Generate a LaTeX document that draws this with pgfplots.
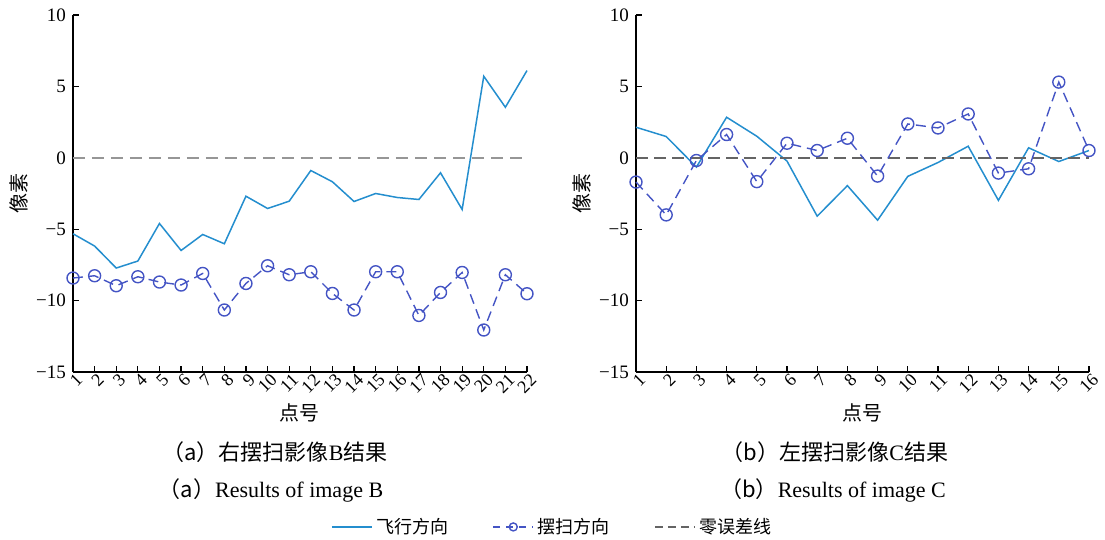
\documentclass[border=0pt]{standalone}
\usepackage{fontspec}
\setmainfont{Liberation Serif}
\newfontfamily\cjk{Noto Sans CJK SC}
\usepackage{pgfplots}
\pgfplotsset{compat=1.18}

\definecolor{flyblue}{RGB}{36,142,206}
\definecolor{swpblue}{RGB}{68,84,196}
\definecolor{zerolight}{RGB}{150,150,150}
\definecolor{zerodark}{RGB}{100,100,100}

\pgfplotsset{
  errplot/.style={
    scale only axis, height=178.5pt,
    ymin=-15, ymax=10,
    axis x line*=bottom, axis y line*=left,
    axis line style={line width=0.7pt, -},
    major tick style={line width=0.6pt, black},
    major tick length=3pt,
    ytick={-15,-10,-5,0,5,10},
    yticklabels={−15,−10,−5,0,5,10},
    yticklabel style={font=\fontsize{9.5}{10}\selectfont},
    xticklabel style={font=\fontsize{9}{10}\selectfont, rotate=45, anchor=east,
      inner sep=0.4pt, yshift=-4pt, xshift=1pt},
    /pgf/number format/assume math mode=true,
    xlabel={\cjk 点号}, ylabel={\cjk 像素},
    label style={font=\fontsize{10}{11}\selectfont},
    xlabel style={at={(axis description cs:0.5,-0.115)}, anchor=center},
    ylabel style={at={(axis description cs:-0.12,0.5)}, anchor=center},
    clip=false,
  },
  fly/.style={flyblue, line width=0.75pt, mark=none},
  swp/.style={swpblue, line width=0.7pt, dash pattern=on 5pt off 3pt,
    mark=o, mark size=3pt, mark options={solid}},
}

\begin{document}
\begin{tikzpicture}
\path[use as bounding box] (0,0) rectangle (552.5pt,270pt);

% (a) right-swing image B, 22 check points
\begin{axis}[errplot, at={(36.5pt,84pt)}, anchor=south west,
  width=227pt, xmin=1, xmax=22, xtick={1,...,22},
  legend columns=3,
  legend style={draw=none, fill=none, at={(axis description cs:1.058,-0.434)},
    anchor=center, font=\cjk\fontsize{9}{10}\selectfont,
    /tikz/every even column/.append style={column sep=20pt}},
  legend image code/.code={\draw[mark repeat=2,mark phase=2]
    plot coordinates {(0pt,0pt) (10pt,0pt) (20pt,0pt)};},
  legend cell align=left]
\addlegendimage{flyblue, line width=0.75pt}
\addlegendentry{飞行方向}
\addlegendimage{swpblue, line width=0.7pt, dash pattern=on 3.5pt off 3pt,
  mark=o, mark size=2pt, mark options={solid}}
\addlegendentry{摆扫方向}
\addlegendimage{zerodark, line width=0.8pt, dash pattern=on 4pt off 2.5pt}
\addlegendentry{零误差线}

\addplot[fly, forget plot] coordinates {
 (1,-5.32) (2,-6.18) (3,-7.72) (4,-7.23) (5,-4.60) (6,-6.49) (7,-5.37) (8,-6.02)
 (9,-2.69) (10,-3.55) (11,-3.04) (12,-0.89) (13,-1.68) (14,-3.06) (15,-2.50)
 (16,-2.78) (17,-2.92) (18,-1.05) (19,-3.62) (20,5.71) (21,3.54) (22,6.11)};
\addplot[swp, forget plot] coordinates {
 (1,-8.42) (2,-8.26) (3,-8.96) (4,-8.33) (5,-8.70) (6,-8.91) (7,-8.10) (8,-10.66)
 (9,-8.80) (10,-7.56) (11,-8.19) (12,-7.98) (13,-9.50) (14,-10.66) (15,-7.98)
 (16,-7.98) (17,-11.04) (18,-9.43) (19,-8.03) (20,-12.06) (21,-8.19) (22,-9.52)};
\addplot[zerolight, line width=0.8pt, dash pattern=on 6pt off 3.5pt, forget plot]
  coordinates {(1,0) (22,0)};
\end{axis}

% (b) left-swing image C, 16 check points
\begin{axis}[errplot, at={(318pt,84pt)}, anchor=south west,
  width=226.5pt, xmin=1, xmax=16, xtick={1,...,16}]
\addplot[fly] coordinates {
 (1,2.14) (2,1.49) (3,-0.65) (4,2.84) (5,1.51) (6,-0.23) (7,-4.09) (8,-1.95)
 (9,-4.37) (10,-1.30) (11,-0.33) (12,0.81) (13,-2.98) (14,0.70) (15,-0.26) (16,0.51)};
\addplot[zerodark, line width=0.8pt, dash pattern=on 6pt off 3pt] coordinates {(1,0) (16,0)};
\addplot[swp] coordinates {
 (1,-1.70) (2,-4.00) (3,-0.19) (4,1.63) (5,-1.67) (6,1.02) (7,0.51) (8,1.37)
 (9,-1.28) (10,2.37) (11,2.09) (12,3.07) (13,-1.07) (14,-0.77) (15,5.30) (16,0.51)};
\end{axis}

% sub-figure captions
\node[font=\fontsize{11}{12}\selectfont] at (137.5pt,44pt) {{\cjk （a）右摆扫影像}B{\cjk 结果}};
\node[font=\fontsize{11}{12}\selectfont] at (135.5pt,25pt) {{\cjk （a）}Results of image B};
\node[font=\fontsize{11}{12}\selectfont] at (417.5pt,44pt) {{\cjk （b）左摆扫影像}C{\cjk 结果}};
\node[font=\fontsize{11}{12}\selectfont] at (416.5pt,25pt) {{\cjk （b）}Results of image C};
\end{tikzpicture}
\end{document}
